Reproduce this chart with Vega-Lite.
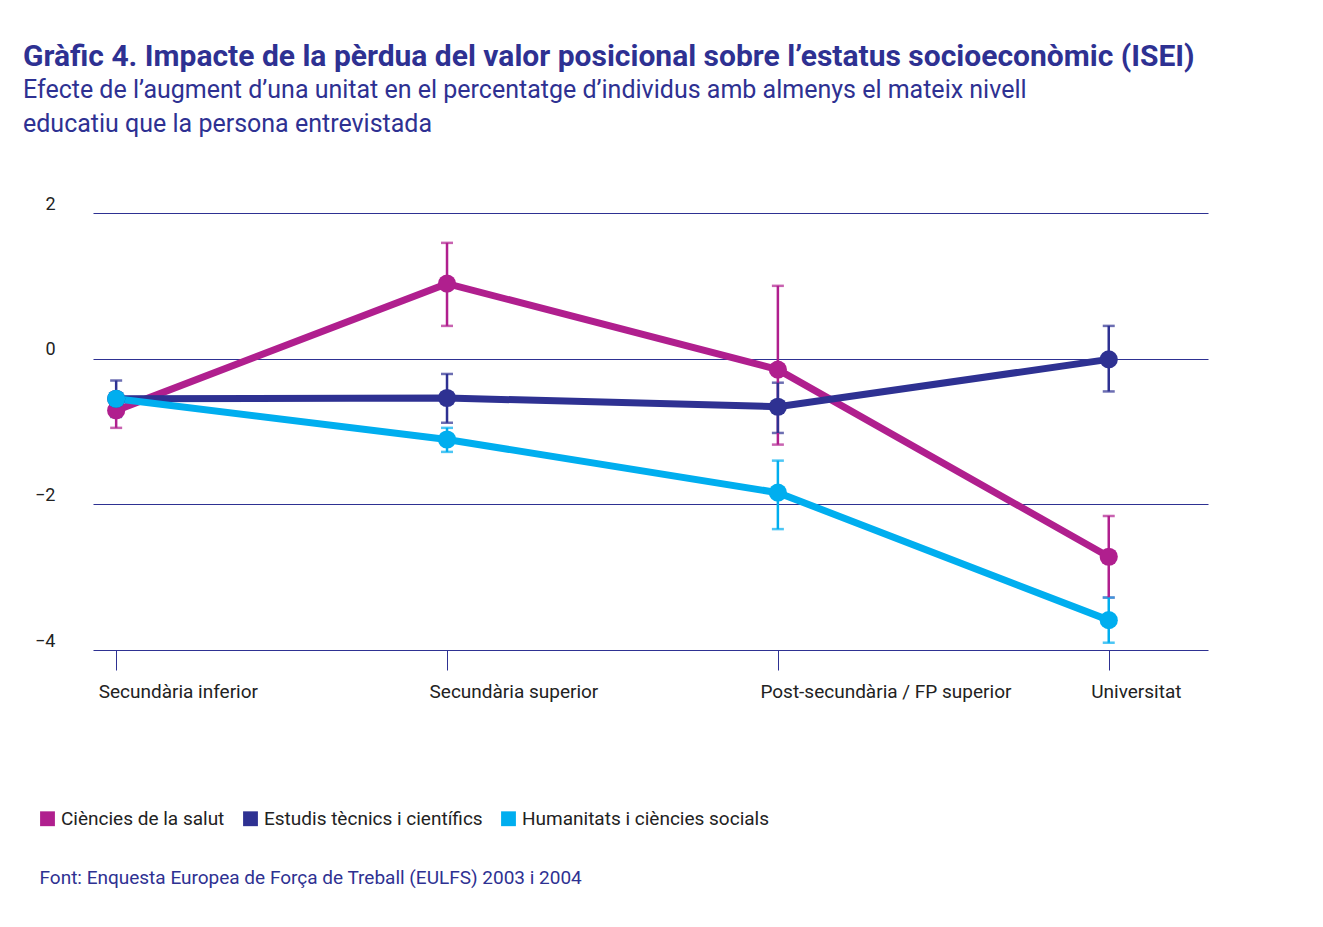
{
  "$schema": "https://vega.github.io/schema/vega-lite/v6.json",
  "width": 1115,
  "height": 437,
  "autosize": "none",
  "padding": {"left": 93, "top": 213, "right": 115, "bottom": 277},
  "background": "white",
  "config": {
    "font": "Roboto",
    "view": {"stroke": null},
    "title": {"font": "Roboto"}
  },
  "title": {
    "text": "Gràfic 4. Impacte de la pèrdua del valor posicional sobre l’estatus socioeconòmic (ISEI)",
    "subtitle": ["Efecte de l’augment d’una unitat en el percentatge d’individus amb almenys el mateix nivell", "educatiu que la persona entrevistada"],
    "anchor": "start",
    "frame": "group",
    "dx": -70,
    "offset": 58,
    "fontSize": 30,
    "fontWeight": "bold",
    "color": "#2e3192",
    "subtitleFontSize": 25,
    "subtitleColor": "#2e3192",
    "subtitlePadding": 6,
    "subtitleLineHeight": 34
  },
  "data": {
    "values": [
      {"nivell": 0, "grup": "Ciències de la salut", "v": -0.71, "lo": -0.95, "hi": -0.47},
      {"nivell": 1, "grup": "Ciències de la salut", "v": 1.03, "lo": 0.45, "hi": 1.59},
      {"nivell": 2, "grup": "Ciències de la salut", "v": -0.15, "lo": -1.18, "hi": 1.0},
      {"nivell": 3, "grup": "Ciències de la salut", "v": -2.72, "lo": -3.28, "hi": -2.16},
      {"nivell": 0, "grup": "Estudis tècnics i científics", "v": -0.55, "lo": -0.8, "hi": -0.3},
      {"nivell": 1, "grup": "Estudis tècnics i científics", "v": -0.54, "lo": -0.88, "hi": -0.21},
      {"nivell": 2, "grup": "Estudis tècnics i científics", "v": -0.66, "lo": -1.02, "hi": -0.33},
      {"nivell": 3, "grup": "Estudis tècnics i científics", "v": -0.01, "lo": -0.45, "hi": 0.45},
      {"nivell": 0, "grup": "Humanitats i ciències socials", "v": -0.55, "lo": -0.6, "hi": -0.5},
      {"nivell": 1, "grup": "Humanitats i ciències socials", "v": -1.11, "lo": -1.28, "hi": -0.95},
      {"nivell": 2, "grup": "Humanitats i ciències socials", "v": -1.84, "lo": -2.34, "hi": -1.4},
      {"nivell": 3, "grup": "Humanitats i ciències socials", "v": -3.59, "lo": -3.9, "hi": -3.28}
    ]
  },
  "encoding": {
    "x": {
      "field": "nivell",
      "type": "quantitative",
      "scale": {"domain": [-0.07, 3.3], "nice": false, "zero": false},
      "axis": {
        "values": [0, 1, 2, 3],
        "labelExpr": "['Secundària inferior', 'Secundària superior', 'Post-secundària / FP superior', 'Universitat'][datum.value]",
        "labelAlign": "left",
        "labelFontSize": 19,
        "labelColor": "#222",
        "labelLimit": 0,
        "labelPadding": 12,
        "labelOffset": -18,
        "tickColor": "#2e3192",
        "tickSize": 20,
        "domain": false,
        "grid": false,
        "title": "Font: Enquesta Europea de Força de Treball (EULFS) 2003 i 2004",
        "titleFontSize": 19,
        "titleFontWeight": "normal",
        "titleColor": "#2e3192",
        "titleAnchor": "start",
        "titleAlign": "left",
        "titleX": -54,
        "titleY": 218
      }
    },
    "color": {
      "field": "grup",
      "type": "nominal",
      "scale": {"range": ["#b01f8e", "#2e3192", "#00aeef"]},
      "legend": {
        "orient": "none",
        "legendX": -55,
        "legendY": 596,
        "direction": "horizontal",
        "title": null,
        "symbolType": "square",
        "symbolSize": 220,
        "symbolStrokeWidth": 0,
        "symbolOpacity": 1,
        "labelFontSize": 19,
        "labelColor": "#222",
        "labelLimit": 0,
        "columnPadding": 16,
        "labelOffset": 4
      }
    }
  },
  "layer": [
    {
      "mark": {"type": "errorbar", "ticks": {"size": 12, "thickness": 2.5}, "thickness": 2.5},
      "encoding": {
        "y": {"field": "lo", "type": "quantitative"},
        "y2": {"field": "hi"},
        "color": {"field": "grup", "type": "nominal"}
      }
    },
    {
      "mark": {"type": "line", "strokeWidth": 7},
      "encoding": {
        "y": {
          "field": "v",
          "type": "quantitative",
          "scale": {"domain": [-4, 2], "nice": false},
          "axis": {
            "values": [-4, -2, 0, 2],
            "format": "d",
            "title": null,
            "domain": false,
            "ticks": false,
            "gridColor": "#2e3192",
            "gridWidth": 1.2,
            "labelFontSize": 18,
            "labelColor": "#222",
            "labelPadding": 38,
            "labelBaseline": "bottom"
          }
        }
      }
    },
    {
      "mark": {"type": "point", "filled": true, "size": 330, "opacity": 1},
      "encoding": {"y": {"field": "v", "type": "quantitative"}}
    }
  ]
}
